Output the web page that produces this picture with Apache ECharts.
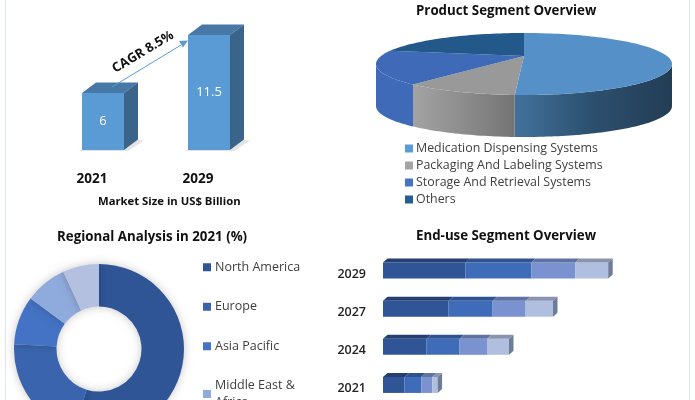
<!DOCTYPE html>
<html><head><meta charset="utf-8">
<style>html,body{margin:0;padding:0;background:#fff}#c{width:695px;height:400px}</style>
<script src="https://cdn.jsdelivr.net/npm/echarts@6/dist/echarts.min.js"></script>
</head><body><div id="c"></div>
<script>
const marketYears = ['2021', '2029'];
const marketValues = [6, 11.5];
const productNames = ['Medication Dispensing Systems', 'Packaging And Labeling Systems', 'Storage And Retrieval Systems', 'Others'];
const productValues = [51, 12.5, 18.5, 18];
const regionNames = ['North America', 'Europe', 'Asia Pacific', 'Middle East & Africa', 'Latin America'];
const regionValues = [54.7, 21.2, 9.2, 8, 6.9];
const endUseYears = ['2029', '2027', '2024', '2021'];
const endUseA = [4.13, 3.28, 2.18, 1.08];
const endUseB = [3.28, 2.2, 1.65, 0.83];
const endUseC = [2.2, 1.65, 1.37, 0.55];
const endUseD = [1.65, 1.37, 1.1, 0.27];

const FONT = '"Open Sans", sans-serif';
const chart = echarts.init(document.getElementById('c'), null, {renderer: 'canvas'});

/* ---------- 3D pie ---------- */
const pieTop = ['#5590c8', '#999999', '#3f6ab7', '#22588a'];
const pieLegend = ['#5b9bd5', '#a5a5a5', '#4472c4', '#255e91'];
const pieWall = [['#41719c', '#2c4f6e', '#233d55'], ['#a3a3a3', '#8c8c8c', '#747474'], ['#3f6ab7', '#3f6ab7', '#3f6ab7'], ['#22588a', '#22588a', '#22588a']];
const PC = {x: 524, y: 64, rx: 148, ry: 31, ax: 524, ay: 56, depth: 42};
function ell(t, dy) {
  const r = t * Math.PI / 180;
  return [PC.x + PC.rx * Math.sin(r), PC.y + (dy || 0) - PC.ry * Math.cos(r)];
}
const pieTotal = productValues.reduce((a, b) => a + b, 0);
function pieSeries(i) {
  const before = productValues.slice(0, i).reduce((a, b) => a + b, 0);
  return {
    type: 'custom', name: productNames[i], coordinateSystem: 'none', silent: true,
    itemStyle: {color: pieLegend[i]}, data: [[productValues[i]]],
    renderItem: function (p, api) {
      const t0 = before / pieTotal * 360, t1 = t0 + api.value(0) / pieTotal * 360;
      const top = [[PC.ax, PC.ay]];
      for (let t = t0; t < t1; t += 1.5) top.push(ell(t));
      top.push(ell(t1));
      const children = [];
      const w0 = Math.max(t0, 90), w1 = Math.min(t1, 270);
      if (w1 > w0) {
        const up = [], down = [];
        for (let t = w0; t < w1; t += 1.5) { up.push(ell(t)); down.unshift(ell(t, PC.depth)); }
        up.push(ell(w1)); down.unshift(ell(w1, PC.depth));
        const c = pieWall[i];
        children.push({type: 'polygon', shape: {points: up.concat(down)}, style: {
          fill: new echarts.graphic.LinearGradient(1, 0, 0, 0, [
            {offset: 0, color: c[2]}, {offset: 0.5, color: c[1]}, {offset: 1, color: c[0]}])}});
      }
      children.push({type: 'polygon', shape: {points: top}, style: {fill: pieTop[i]}});
      return {type: 'group', children: children};
    }
  };
}

/* ---------- market size 3D overlay ---------- */
const marketOverlay = {
  type: 'custom', xAxisIndex: 0, yAxisIndex: 0, silent: true, z: 1,
  data: marketValues.map((v, i) => [i, v]),
  renderItem: function (p, api) {
    const top = api.coord([api.value(0), api.value(1)]);
    const base = api.coord([api.value(0), 0.6]);
    const x0 = top[0] - 21, x1 = top[0] + 21, dx = 14, dy = 10.5;
    return {type: 'group', children: [
      {type: 'polygon', shape: {points: [[x1, base[1]], [x1 + dx, base[1] - dy], [x1 + 20, base[1] - dy + 1], [x1 + 4, base[1] + 1], [x0 - 4, base[1] + 1], [x0, base[1]]]},
        style: {fill: '#e4e4e4'}},
      {type: 'polygon', shape: {points: [[x0, top[1]], [x0 + dx, top[1] - dy], [x1 + dx, top[1] - dy], [x1, top[1]]]}, style: {fill: '#4878a6'}},
      {type: 'polygon', shape: {points: [[x1, top[1]], [x1 + dx, top[1] - dy], [x1 + dx, base[1] - dy], [x1, base[1]]]}, style: {fill: '#3a6489'}}
    ]};
  }
};

/* ---------- end-use stacked bars ---------- */
const endUseSets = [endUseA, endUseB, endUseC, endUseD];
const endFront = ['#2f5597', '#3f6cb9', '#7a92cf', '#b0bfe0'];
const endTop = ['#263f72', '#2f5290', '#5f72a3', '#8b94ae'];
const endOverlayData = [];
endUseYears.forEach((y, j) => {
  let s = 0;
  endUseSets.forEach((set, i) => { endOverlayData.push([j, s, s + set[j], i]); s += set[j]; });
});
const endOverlay = {
  type: 'custom', xAxisIndex: 1, yAxisIndex: 1, silent: true, z: 3, data: endOverlayData,
  renderItem: function (p, api) {
    const j = api.value(0), i = api.value(3);
    const a = api.coord([api.value(1), j]), b = api.coord([api.value(2), j]);
    const h = 8, dx = 4.5, dy = 4;
    const kids = [{type: 'polygon', shape: {points: [[a[0], a[1] - h], [a[0] + dx, a[1] - h - dy], [b[0] + dx, a[1] - h - dy], [b[0], a[1] - h]]},
      style: {fill: endTop[i]}}];
    if (i === 3) kids.push({type: 'polygon', shape: {points: [[b[0], a[1] - h], [b[0] + dx, a[1] - h - dy], [b[0] + dx, a[1] + h - dy], [b[0], a[1] + h]]},
      style: {fill: '#6f7c98'}});
    return {type: 'group', children: kids};
  }
};

const titleStyle = {fontFamily: FONT, fontWeight: 'bold', fontSize: 13.3, color: '#111'};

chart.setOption({
  animation: false,
  backgroundColor: '#fff',
  title: [
    {text: 'Product Segment Overview', left: 416, top: 5, padding: 0, textStyle: titleStyle},
    {text: 'Regional Analysis in 2021 (%)', left: 57, top: 231, padding: 0, textStyle: titleStyle},
    {text: 'End-use Segment Overview', left: 416, top: 230, padding: 0, textStyle: titleStyle},
    {text: 'Market Size in US$ Billion', left: 98, top: 196, padding: 0, textStyle: Object.assign({}, titleStyle, {fontSize: 11.3})}
  ],
  legend: [
    {data: productNames, orient: 'vertical', left: 405, top: 140, height: 80, padding: 0, itemGap: 0, itemWidth: 8, itemHeight: 8, icon: 'rect',
      selectedMode: false, textStyle: {fontFamily: FONT, fontSize: 12.4, color: '#404040', padding: [0, 0, 0, -2], lineHeight: 17}},
    {data: regionNames, orient: 'vertical', left: 203, top: 259, height: 300, padding: 0, itemGap: 23, itemWidth: 8, itemHeight: 8, icon: 'rect',
      selectedMode: false, textStyle: {fontFamily: FONT, fontSize: 12.5, color: '#404040', padding: [0, 0, 0, -1], lineHeight: 16.5},
      formatter: n => n === 'Middle East & Africa' ? 'Middle East &\nAfrica' : n}
  ],
  grid: [
    {left: 50, top: 35, width: 212, height: 115, outerBoundsMode: 'none'},
    {left: 383, top: 251.5, width: 240, height: 152.5, outerBoundsMode: 'none'}
  ],
  xAxis: [
    {type: 'category', gridIndex: 0, data: marketYears, axisLine: {show: false}, axisTick: {show: false},
      axisLabel: {fontFamily: FONT, fontWeight: 'bold', fontSize: 13.5, color: '#111', margin: 22, padding: [0, 22, 0, 0]}},
    {type: 'value', gridIndex: 1, min: 0, max: 12, show: false}
  ],
  yAxis: [
    {type: 'value', gridIndex: 0, min: 0.6, max: 11.5, show: false},
    {type: 'category', gridIndex: 1, data: endUseYears, inverse: true, axisLine: {show: false}, axisTick: {show: false},
      axisLabel: {fontFamily: FONT, fontWeight: 600, fontSize: 12.5, color: '#222', margin: 17, verticalAlign: 'top', lineHeight: 7}}
  ],
  series: [
    {type: 'bar', name: 'Market Size', xAxisIndex: 0, yAxisIndex: 0, barWidth: 42, data: marketValues, silent: true, z: 2,
      itemStyle: {color: '#5b9bd5'},
      label: {show: true, position: 'inside', color: '#fff', fontFamily: FONT, fontSize: 13}},
    marketOverlay,
    ...productNames.map((n, i) => pieSeries(i)),
    {type: 'pie', name: 'Regional', center: [99, 349], radius: [42.5, 85], startAngle: 90, clockwise: true, silent: true,
      data: regionNames.map((n, i) => ({name: n, value: regionValues[i]})),
      color: ['#2f5597', '#3a65ae', '#4472c4', '#8faadc', '#b4c0e0'],
      label: {show: false}, labelLine: {show: false},
      itemStyle: {shadowBlur: 8, shadowColor: 'rgba(0,0,0,0.22)'}},
    ...endUseSets.map((set, i) => ({
      type: 'bar', name: 'End-use ' + (i + 1), xAxisIndex: 1, yAxisIndex: 1, stack: 'enduse', barWidth: 16, silent: true, z: 2,
      data: set, itemStyle: {color: endFront[i]}
    })),
    endOverlay
  ],
  graphic: [
    {type: 'rect', z: 0, shape: {x: 5, y: 0, width: 1, height: 400}, style: {fill: '#dce6f1'}},
    {type: 'rect', z: 0, shape: {x: 689, y: 0, width: 1, height: 400}, style: {fill: '#dce6f1'}},
    {type: 'line', z: 50, shape: {x1: 112, y1: 87, x2: 181, y2: 45}, style: {stroke: '#5b9bd5', lineWidth: 1}},
    {type: 'polygon', z: 50, shape: {points: [[188, 40.5], [179, 41], [183, 47.5]]}, style: {fill: '#5b9bd5'}},
    {type: 'text', z: 50, x: 143, y: 52, rotation: 31 * Math.PI / 180,
      style: {text: 'CAGR 8.5%', fill: '#111', font: 'bold 13px ' + FONT, textAlign: 'center', textVerticalAlign: 'middle'}}
  ]
});
</script></body></html>
